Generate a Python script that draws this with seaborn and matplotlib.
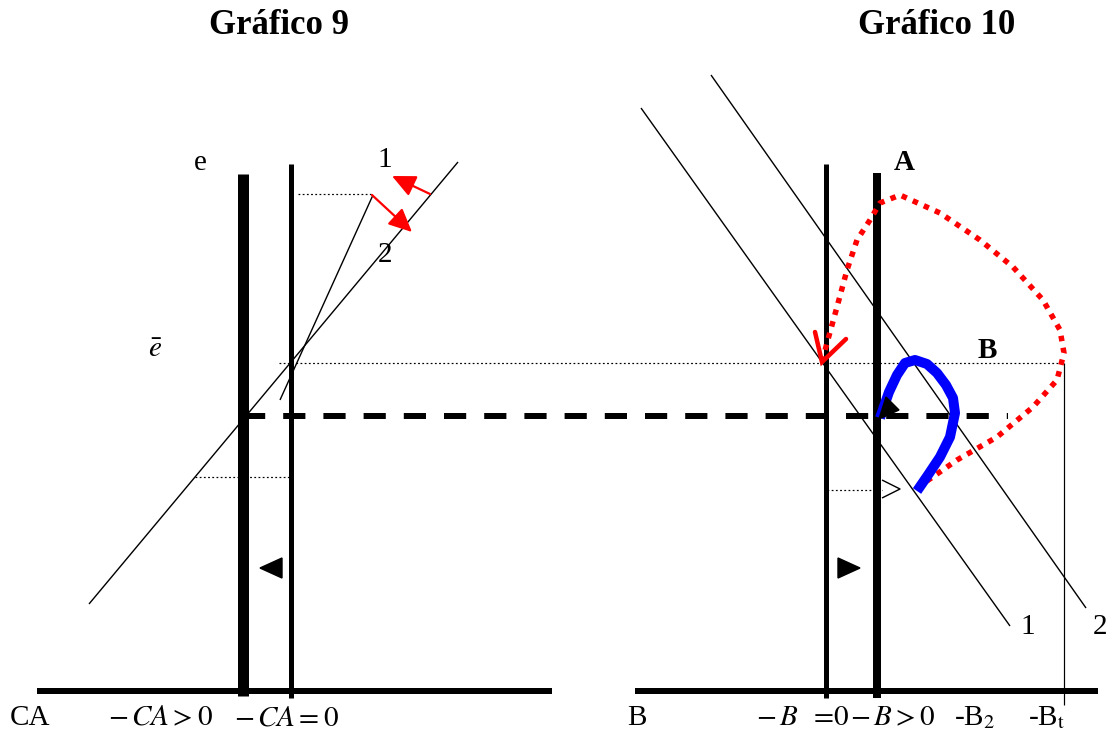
import matplotlib.pyplot as plt
import matplotlib.patches as mpatches
import numpy as np
import pandas as pd
import seaborn as sns

# canvas is laid out in pixel units of the reference (x right, y down)
W, H = 1112, 733

# ---- Gráfico 9 -------------------------------------------------------
axis9_x = [37, 552]
axis_y = 691
ca_pos_x = 243          # -CA > 0 (thick)
ca_zero_x = 291         # -CA = 0
ca_pos_top, ca_zero_top = 174, 164
line2_9 = [(89, 604), (458, 162)]
line1_9 = [(373, 195), (280, 400)]
dot_hi_9 = [(298, 194), (372, 194)]
dot_lo_9 = [(195, 477), (290, 477)]
red_arrows_9 = [((430, 194), (392, 176)), ((372, 195), (412, 232))]
tri_left_9 = [(260, 568), (282, 558), (282, 578)]

# ---- shared guides ---------------------------------------------------
ebar_y = 363
ebar_x = [279, 1064]
dash_y = 416
dash_x = [243, 1008]

# ---- Gráfico 10 ------------------------------------------------------
axis10_x = [635, 1098]
b_zero_x = 826          # -B = 0
b_pos_x = 877           # -B > 0 (thick)
b_zero_top, b_pos_top = 164, 173
bt_x = 1064
line1_10 = [(641, 108), (1010, 626)]
line2_10 = [(711, 75), (1086, 608)]
red_path_x = [917, 957, 997, 1033, 1057, 1064, 1060, 1043, 1013, 980, 940,
              900, 880, 870, 857, 847, 837, 827, 823]
red_path_y = [488, 460, 437, 407, 380, 353, 330, 300, 267, 240, 213,
              195, 203, 220, 240, 270, 307, 343, 358]
red_head = [(815, 332), (822, 362), (846, 339)]
blue_path_x = [917, 928, 940, 950, 955, 953, 946, 937, 927, 915, 905, 897, 889, 880]
blue_path_y = [491, 475, 457, 437, 413, 398, 385, 373, 364, 360, 363, 375, 392, 418]
blue_head = [(879, 419), (886, 397), (899, 410)]
dot_b2 = [(827, 490), (882, 490)]
open_tri = [(882, 480), (900, 489), (882, 498)]
tri_right_10 = [(838, 558), (860, 568), (838, 578)]

PX = 0.72  # px -> pt at dpi 100

sns.set_theme(style="white")
plt.rcParams["font.family"] = ["Liberation Serif", "DejaVu Serif"]
plt.rcParams["mathtext.fontset"] = "stix"
plt.rcParams["text.color"] = "black"
plt.rcParams["lines.solid_capstyle"] = "butt"
plt.rcParams["lines.dash_capstyle"] = "butt"

fig = plt.figure(figsize=(W / 100, H / 100), dpi=100)
ax = fig.add_axes([0, 0, 1, 1])
ax.set_xlim(0, W)
ax.set_ylim(H, 0)
ax.axis("off")


def seg(pts, **kw):
    df = pd.DataFrame(pts, columns=["x", "y"])
    sns.lineplot(data=df, x="x", y="y", sort=False, estimator=None, ax=ax, **kw)


# axes
seg([(axis9_x[0], axis_y), (axis9_x[1], axis_y)], color="black", lw=6 * PX)
seg([(axis10_x[0], axis_y), (axis10_x[1], axis_y)], color="black", lw=6 * PX)

# verticals
seg([(ca_pos_x, ca_pos_top), (ca_pos_x, 696)], color="black", lw=11 * PX)
seg([(ca_zero_x, ca_zero_top), (ca_zero_x, 698)], color="black", lw=5 * PX)
seg([(b_zero_x, b_zero_top), (b_zero_x, 698)], color="black", lw=5 * PX)
seg([(b_pos_x, b_pos_top), (b_pos_x, 698)], color="black", lw=8 * PX)
seg([(bt_x, ebar_y), (bt_x, 705)], color="black", lw=1.2 * PX)

# slanted schedules
for pts in (line2_9, line1_9, line1_10, line2_10):
    seg(pts, color="black", lw=1.4 * PX)

# dotted guides
for pts in (dot_hi_9, dot_lo_9, [(ebar_x[0], ebar_y), (ebar_x[1], ebar_y)], dot_b2):
    seg(pts, color="black", lw=1.2 * PX, linestyle=(0, (1.5, 2.0)))

# dashed long-run line
seg([(dash_x[0], dash_y), (dash_x[1], dash_y)], color="black", lw=6 * PX,
    linestyle=(0, (3.7, 3.0)))

# red arrows in Gráfico 9
for (x0, y0), (x1, y1) in red_arrows_9:
    ax.annotate("", xy=(x1, y1), xytext=(x0, y0),
                arrowprops=dict(arrowstyle="-|>,head_length=0.75,head_width=0.35",
                                mutation_scale=19, color="red", lw=1.6,
                                shrinkA=0, shrinkB=0))

# red dotted path
ax.plot(red_path_x, red_path_y, color="red", lw=5.5 * PX,
        linestyle=(0, (1.0, 1.2)))
hx, hy = zip(*red_head)
ax.plot(hx, hy, color="red", lw=4.5 * PX, solid_capstyle="round", solid_joinstyle="miter")

# blue path
ax.plot(blue_path_x, blue_path_y, color="#0000ff", lw=10 * PX)
ax.add_patch(mpatches.Polygon(blue_head, closed=True, color="black", zorder=4))

# small arrow markers
ax.add_patch(mpatches.Polygon(tri_left_9, closed=True, color="black"))
ax.add_patch(mpatches.Polygon(tri_right_10, closed=True, color="black"))
ox, oy = zip(*open_tri)
ax.plot(ox, oy, color="black", lw=1.4 * PX)

# titles
ax.text(279, 25, "Gráfico 9", ha="center", va="center", fontsize=25, fontweight="bold")
ax.text(937, 25, "Gráfico 10", ha="center", va="center", fontsize=25, fontweight="bold")

# labels Gráfico 9
fs = 21
ax.text(200, 163, "e", ha="center", va="center", fontsize=fs)
ax.text(385, 160, "1", ha="center", va="center", fontsize=fs)
ax.text(385, 255, "2", ha="center", va="center", fontsize=fs)
ax.text(155, 350, r"$\bar{e}$", ha="center", va="center", fontsize=fs)
ax.text(10, 718, "CA", ha="left", va="center", fontsize=fs)
ax.text(108, 718, r"$-\,CA > 0$", ha="left", va="center", fontsize=fs)
ax.text(234, 718, r"$-\,CA = 0$", ha="left", va="center", fontsize=fs)

# labels Gráfico 10
ax.text(904, 162, "A", ha="center", va="center", fontsize=fs, fontweight="bold")
ax.text(987, 350, "B", ha="center", va="center", fontsize=fs, fontweight="bold")
ax.text(1028, 627, "1", ha="center", va="center", fontsize=fs)
ax.text(1100, 627, "2", ha="center", va="center", fontsize=fs)
ax.text(627, 718, "B", ha="left", va="center", fontsize=fs)
ax.text(756, 718, r"$-\,B$", ha="left", va="center", fontsize=fs)
ax.text(809, 718, r"$=\!0$", ha="left", va="center", fontsize=fs)
ax.text(850, 718, r"$-\,B > 0$", ha="left", va="center", fontsize=fs)
ax.text(954, 718, r"-B$_2$", ha="left", va="center", fontsize=fs)
ax.text(1028, 718, r"-B$_\mathrm{t}$", ha="left", va="center", fontsize=fs)

fig.savefig("out.png", dpi=100)
